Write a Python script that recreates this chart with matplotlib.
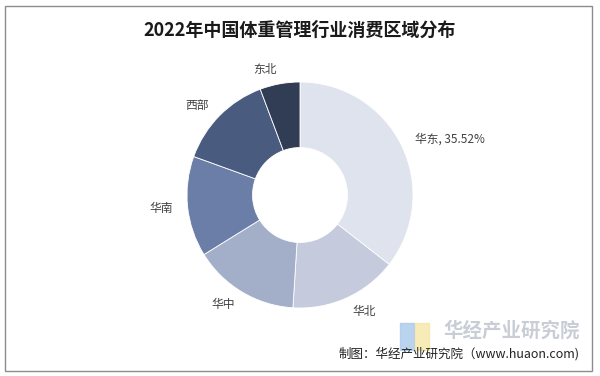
import matplotlib.pyplot as plt
from matplotlib.patches import Rectangle, Polygon

plt.rcParams['font.family'] = ['Noto Sans CJK SC', 'DejaVu Sans']

# Data
regions = ['华东', '华北', '华中', '华南', '西部', '东北']
shares = [35.52, 15.47, 15.17, 14.36, 13.75, 5.72]
colors = ['#dfe3ed', '#c5cbdc', '#a3afc9', '#6a7ea8', '#4a5b80', '#313d55']
labels = ['华东, 35.52%', '华北', '华中', '华南', '西部', '东北']

fig = plt.figure(figsize=(6, 3.76), dpi=100)

# outer frame
fig.patches.append(Rectangle((5 / 600, 1 - 371 / 376), 587 / 600, 365 / 376,
                             transform=fig.transFigure, fill=False,
                             edgecolor='#8c8c8c', linewidth=1))

ax = fig.add_axes([187 / 600, 68 / 376, 226 / 600, 226 / 376])
wedges, texts = ax.pie(shares, labels=labels, colors=colors, startangle=90,
                       counterclock=False, labeldistance=1.13,
                       wedgeprops=dict(width=0.58, edgecolor='white', linewidth=0.6),
                       textprops=dict(fontsize=8.5, color='#404040'))
ax.set_xlim(-1, 1)
ax.set_ylim(-1, 1)
ax.set_aspect('auto')
ax.axis('off')

fig.text(0.5, 1 - 30 / 376, '2022年中国体重管理行业消费区域分布', ha='center', va='center',
         fontsize=13, fontweight='bold', color='#1a1a1a')

# watermark logo
fig.patches.append(Rectangle((400 / 600, 1 - 350 / 376), 14 / 600, 27 / 376,
                             transform=fig.transFigure, color='#a9c8ec', alpha=0.8))
fig.patches.append(Rectangle((415 / 600, 1 - 350 / 376), 14 / 600, 27 / 376,
                             transform=fig.transFigure, color='#f5e6a6', alpha=0.8))
fig.text(512 / 600, 1 - 331 / 376, '华经产业研究院', ha='center', va='center',
         fontsize=14, fontweight='bold', color='#c9ced6')

fig.text(580 / 600, 1 - 354 / 376, '制图：华经产业研究院（www.huaon.com)', ha='right', va='center',
         fontsize=9, color='#222222')

fig.savefig('out.png', dpi=100)
